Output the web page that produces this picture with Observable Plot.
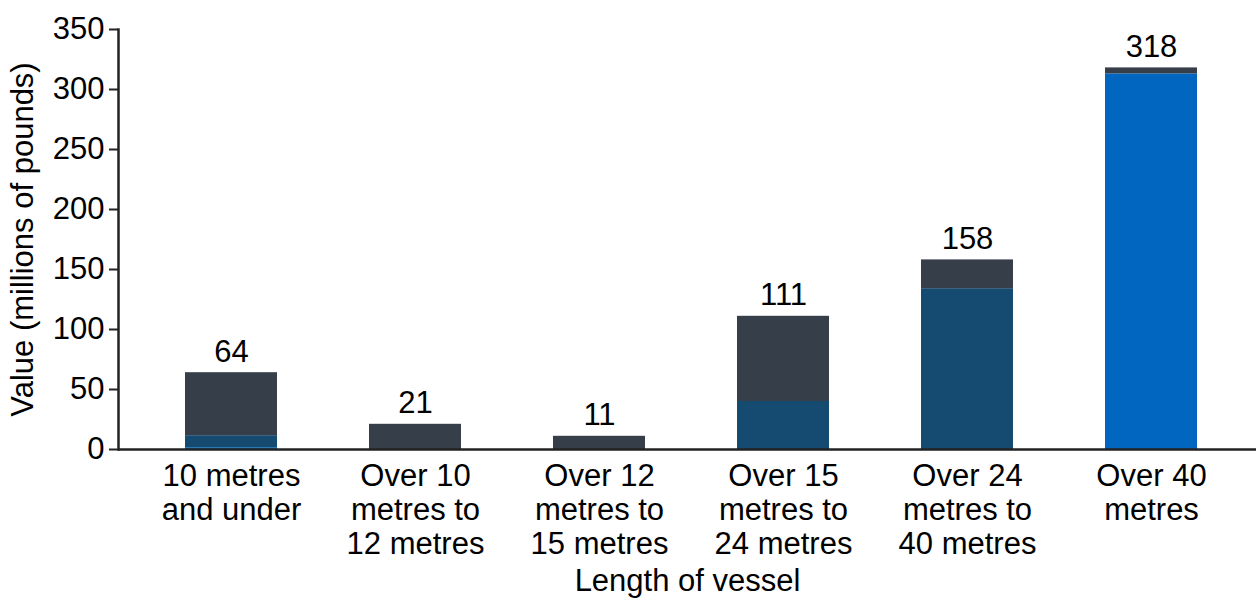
<!DOCTYPE html>
<html>
<head>
<meta charset="utf-8">
<script src="https://cdn.jsdelivr.net/npm/d3@7"></script>
<script src="https://cdn.jsdelivr.net/npm/@observablehq/plot@0.6"></script>
<style>
  html, body { margin: 0; padding: 0; background: #ffffff; }
  #chart svg { display: block; }
</style>
</head>
<body>
<div id="chart"></div>
<script>
// ---- Data ----
const categories = [
  "10 metres and under",
  "Over 10 metres to 12 metres",
  "Over 12 metres to 15 metres",
  "Over 15 metres to 24 metres",
  "Over 24 metres to 40 metres",
  "Over 40 metres"
];
const tickLabels = [
  "10 metres\nand under",
  "Over 10\nmetres to\n12 metres",
  "Over 12\nmetres to\n15 metres",
  "Over 15\nmetres to\n24 metres",
  "Over 24\nmetres to\n40 metres",
  "Over 40\nmetres"
];
const seriesNames = ["Series 1", "Series 2", "Series 3"];
const seriesColors = ["#0066c0", "#154a71", "#363f49"];
const series1 = [1.5, 0, 0, 0, 0, 313];
const series2 = [10, 0, 0, 40, 134, 0];
const series3 = [52.5, 21, 11, 71, 24, 5];
const totals = [64, 21, 11, 111, 158, 318];
const yTicks = [0, 50, 100, 150, 200, 250, 300, 350];

// ---- Build tidy rows ----
const seriesValues = [series1, series2, series3];
const rows = [];
seriesNames.forEach((s, si) => {
  categories.forEach((c, ci) => {
    rows.push({category: c, series: s, value: seriesValues[si][ci]});
  });
});
const totalRows = categories.map((c, i) => ({category: c, total: totals[i]}));

const chart = Plot.plot({
  width: 1256,
  height: 599,
  marginTop: 29,
  marginBottom: 150,
  marginLeft: 118,
  marginRight: 0,
  style: {fontFamily: "'Liberation Sans', Arial, sans-serif", fontSize: "31px", color: "#000", background: "#fff"},
  x: {domain: categories, paddingInner: 0.5, paddingOuter: 0.33, align: 0.535},
  y: {domain: [0, 350]},
  color: {domain: seriesNames, range: seriesColors},
  marks: [
    Plot.barY(rows, {x: "category", y: "value", fill: "series"}),
    Plot.text(totalRows, {x: "category", y: "total", text: d => String(d.total), lineAnchor: "bottom", dy: -11, fill: "#000"}),
    Plot.ruleY([0], {stroke: "#222", strokeWidth: 2.5}),
    Plot.frame({anchor: "left", stroke: "#222", strokeWidth: 2.5}),
    Plot.axisY({ticks: yTicks, tickSize: 9, tickPadding: 5, strokeWidth: 2, stroke: "#222",
      label: "Value (millions of pounds)", labelAnchor: "center", labelArrow: "none", labelOffset: 108}),
    Plot.axisX({tickSize: 0, tickPadding: 12, lineHeight: 1.1,
      tickFormat: (d) => tickLabels[categories.indexOf(d)],
      label: "Length of vessel", labelAnchor: "center", labelArrow: "none", labelOffset: 141})
  ]
});
document.getElementById("chart").appendChild(chart);
</script>
</body>
</html>
